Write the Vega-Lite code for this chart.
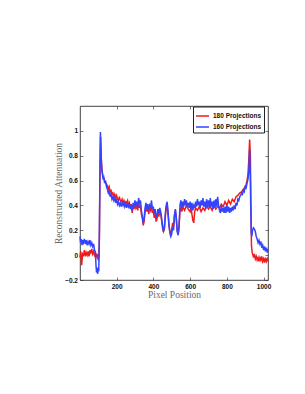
{
"$schema": "https://vega.github.io/schema/vega-lite/v6.json",
"autosize": {"type": "none"},
"padding": {"left": 80, "top": 106, "right": 37, "bottom": 114},
"width": 188,
"height": 174,
"background": "white",
"config": {
  "view": {"stroke": "#111", "strokeWidth": 0.8},
  "axis": {"domain": false, "grid": false, "tickColor": "#222", "tickSize": -3, "tickWidth": 0.6,
    "labelFont": "Liberation Sans", "labelFontWeight": "bold", "labelFontSize": 6.5, "labelColor": "#111",
    "titleFont": "Liberation Serif", "titleFontWeight": "normal", "titleFontSize": 9.5, "titleColor": "#6a6a6a"}
},
"data": {"values": [
{"s":"180 Projections","x":1,"v":-0.02},{"s":"180 Projections","x":5,"v":0.03},{"s":"180 Projections","x":10,"v":-0.08},{"s":"180 Projections","x":15,"v":0.01},{"s":"180 Projections","x":20,"v":0.0},{"s":"180 Projections","x":25,"v":0.04},{"s":"180 Projections","x":30,"v":-0.01},{"s":"180 Projections","x":35,"v":0.02},{"s":"180 Projections","x":40,"v":0.0},{"s":"180 Projections","x":45,"v":0.03},{"s":"180 Projections","x":50,"v":-0.01},{"s":"180 Projections","x":55,"v":0.04},{"s":"180 Projections","x":60,"v":0.02},{"s":"180 Projections","x":65,"v":0.05},{"s":"180 Projections","x":70,"v":0.01},{"s":"180 Projections","x":75,"v":0.03},{"s":"180 Projections","x":80,"v":0.0},{"s":"180 Projections","x":85,"v":0.02},{"s":"180 Projections","x":90,"v":-0.01},{"s":"180 Projections","x":95,"v":0.01},{"s":"180 Projections","x":100,"v":-0.04},{"s":"180 Projections","x":104,"v":-0.02},{"s":"180 Projections","x":107,"v":0.2},{"s":"180 Projections","x":110,"v":0.7},{"s":"180 Projections","x":113,"v":0.95},{"s":"180 Projections","x":116,"v":0.8},{"s":"180 Projections","x":120,"v":0.7},{"s":"180 Projections","x":125,"v":0.64},{"s":"180 Projections","x":130,"v":0.62},{"s":"180 Projections","x":135,"v":0.6},{"s":"180 Projections","x":140,"v":0.58},{"s":"180 Projections","x":145,"v":0.57},{"s":"180 Projections","x":150,"v":0.56},{"s":"180 Projections","x":155,"v":0.53},{"s":"180 Projections","x":160,"v":0.55},{"s":"180 Projections","x":165,"v":0.51},{"s":"180 Projections","x":170,"v":0.52},{"s":"180 Projections","x":175,"v":0.49},{"s":"180 Projections","x":180,"v":0.5},{"s":"180 Projections","x":185,"v":0.47},{"s":"180 Projections","x":190,"v":0.49},{"s":"180 Projections","x":195,"v":0.46},{"s":"180 Projections","x":200,"v":0.48},{"s":"180 Projections","x":205,"v":0.45},{"s":"180 Projections","x":210,"v":0.44},{"s":"180 Projections","x":215,"v":0.47},{"s":"180 Projections","x":220,"v":0.44},{"s":"180 Projections","x":225,"v":0.43},{"s":"180 Projections","x":230,"v":0.45},{"s":"180 Projections","x":235,"v":0.42},{"s":"180 Projections","x":240,"v":0.44},{"s":"180 Projections","x":245,"v":0.41},{"s":"180 Projections","x":250,"v":0.43},{"s":"180 Projections","x":255,"v":0.42},{"s":"180 Projections","x":260,"v":0.44},{"s":"180 Projections","x":265,"v":0.4},{"s":"180 Projections","x":270,"v":0.42},{"s":"180 Projections","x":275,"v":0.38},{"s":"180 Projections","x":280,"v":0.41},{"s":"180 Projections","x":285,"v":0.34},{"s":"180 Projections","x":290,"v":0.4},{"s":"180 Projections","x":295,"v":0.37},{"s":"180 Projections","x":300,"v":0.42},{"s":"180 Projections","x":305,"v":0.38},{"s":"180 Projections","x":310,"v":0.4},{"s":"180 Projections","x":315,"v":0.36},{"s":"180 Projections","x":320,"v":0.43},{"s":"180 Projections","x":325,"v":0.38},{"s":"180 Projections","x":330,"v":0.4},{"s":"180 Projections","x":335,"v":0.33},{"s":"180 Projections","x":340,"v":0.3},{"s":"180 Projections","x":345,"v":0.24},{"s":"180 Projections","x":350,"v":0.27},{"s":"180 Projections","x":355,"v":0.35},{"s":"180 Projections","x":360,"v":0.38},{"s":"180 Projections","x":365,"v":0.35},{"s":"180 Projections","x":370,"v":0.39},{"s":"180 Projections","x":375,"v":0.33},{"s":"180 Projections","x":380,"v":0.38},{"s":"180 Projections","x":385,"v":0.36},{"s":"180 Projections","x":390,"v":0.4},{"s":"180 Projections","x":395,"v":0.34},{"s":"180 Projections","x":400,"v":0.36},{"s":"180 Projections","x":405,"v":0.3},{"s":"180 Projections","x":410,"v":0.34},{"s":"180 Projections","x":415,"v":0.27},{"s":"180 Projections","x":420,"v":0.29},{"s":"180 Projections","x":425,"v":0.34},{"s":"180 Projections","x":430,"v":0.31},{"s":"180 Projections","x":435,"v":0.36},{"s":"180 Projections","x":440,"v":0.33},{"s":"180 Projections","x":445,"v":0.28},{"s":"180 Projections","x":450,"v":0.22},{"s":"180 Projections","x":455,"v":0.19},{"s":"180 Projections","x":460,"v":0.21},{"s":"180 Projections","x":465,"v":0.3},{"s":"180 Projections","x":470,"v":0.38},{"s":"180 Projections","x":475,"v":0.41},{"s":"180 Projections","x":480,"v":0.33},{"s":"180 Projections","x":485,"v":0.24},{"s":"180 Projections","x":490,"v":0.19},{"s":"180 Projections","x":495,"v":0.17},{"s":"180 Projections","x":500,"v":0.2},{"s":"180 Projections","x":505,"v":0.26},{"s":"180 Projections","x":510,"v":0.23},{"s":"180 Projections","x":515,"v":0.32},{"s":"180 Projections","x":520,"v":0.36},{"s":"180 Projections","x":525,"v":0.29},{"s":"180 Projections","x":530,"v":0.2},{"s":"180 Projections","x":535,"v":0.17},{"s":"180 Projections","x":540,"v":0.24},{"s":"180 Projections","x":545,"v":0.36},{"s":"180 Projections","x":550,"v":0.38},{"s":"180 Projections","x":555,"v":0.35},{"s":"180 Projections","x":560,"v":0.39},{"s":"180 Projections","x":570,"v":0.36},{"s":"180 Projections","x":580,"v":0.4},{"s":"180 Projections","x":590,"v":0.37},{"s":"180 Projections","x":600,"v":0.35},{"s":"180 Projections","x":605,"v":0.39},{"s":"180 Projections","x":610,"v":0.33},{"s":"180 Projections","x":615,"v":0.28},{"s":"180 Projections","x":620,"v":0.26},{"s":"180 Projections","x":625,"v":0.35},{"s":"180 Projections","x":630,"v":0.38},{"s":"180 Projections","x":640,"v":0.36},{"s":"180 Projections","x":650,"v":0.39},{"s":"180 Projections","x":660,"v":0.35},{"s":"180 Projections","x":670,"v":0.38},{"s":"180 Projections","x":680,"v":0.36},{"s":"180 Projections","x":690,"v":0.4},{"s":"180 Projections","x":700,"v":0.37},{"s":"180 Projections","x":710,"v":0.39},{"s":"180 Projections","x":720,"v":0.36},{"s":"180 Projections","x":730,"v":0.4},{"s":"180 Projections","x":740,"v":0.37},{"s":"180 Projections","x":750,"v":0.39},{"s":"180 Projections","x":760,"v":0.38},{"s":"180 Projections","x":770,"v":0.41},{"s":"180 Projections","x":780,"v":0.39},{"s":"180 Projections","x":790,"v":0.43},{"s":"180 Projections","x":800,"v":0.4},{"s":"180 Projections","x":810,"v":0.44},{"s":"180 Projections","x":820,"v":0.41},{"s":"180 Projections","x":830,"v":0.45},{"s":"180 Projections","x":840,"v":0.43},{"s":"180 Projections","x":850,"v":0.47},{"s":"180 Projections","x":860,"v":0.48},{"s":"180 Projections","x":870,"v":0.5},{"s":"180 Projections","x":880,"v":0.51},{"s":"180 Projections","x":890,"v":0.53},{"s":"180 Projections","x":900,"v":0.55},{"s":"180 Projections","x":905,"v":0.57},{"s":"180 Projections","x":910,"v":0.6},{"s":"180 Projections","x":915,"v":0.65},{"s":"180 Projections","x":920,"v":0.78},{"s":"180 Projections","x":924,"v":0.93},{"s":"180 Projections","x":928,"v":0.8},{"s":"180 Projections","x":931,"v":0.4},{"s":"180 Projections","x":934,"v":0.08},{"s":"180 Projections","x":938,"v":0.02},{"s":"180 Projections","x":942,"v":0.0},{"s":"180 Projections","x":946,"v":-0.02},{"s":"180 Projections","x":950,"v":0.01},{"s":"180 Projections","x":955,"v":-0.03},{"s":"180 Projections","x":960,"v":-0.01},{"s":"180 Projections","x":965,"v":-0.04},{"s":"180 Projections","x":970,"v":-0.02},{"s":"180 Projections","x":975,"v":-0.05},{"s":"180 Projections","x":980,"v":-0.02},{"s":"180 Projections","x":985,"v":-0.04},{"s":"180 Projections","x":990,"v":-0.01},{"s":"180 Projections","x":995,"v":-0.05},{"s":"180 Projections","x":1000,"v":-0.03},{"s":"180 Projections","x":1005,"v":-0.06},{"s":"180 Projections","x":1010,"v":-0.02},{"s":"180 Projections","x":1015,"v":-0.05},{"s":"180 Projections","x":1020,"v":-0.03},{"s":"180 Projections","x":1024,"v":-0.05},
{"s":"160 Projections","x":1,"v":0.15},{"s":"160 Projections","x":4,"v":0.1},{"s":"160 Projections","x":8,"v":0.13},{"s":"160 Projections","x":12,"v":0.08},{"s":"160 Projections","x":16,"v":0.12},{"s":"160 Projections","x":20,"v":0.1},{"s":"160 Projections","x":25,"v":0.13},{"s":"160 Projections","x":30,"v":0.09},{"s":"160 Projections","x":35,"v":0.12},{"s":"160 Projections","x":40,"v":0.08},{"s":"160 Projections","x":45,"v":0.11},{"s":"160 Projections","x":50,"v":0.09},{"s":"160 Projections","x":55,"v":0.12},{"s":"160 Projections","x":60,"v":0.08},{"s":"160 Projections","x":65,"v":0.1},{"s":"160 Projections","x":70,"v":0.07},{"s":"160 Projections","x":75,"v":0.09},{"s":"160 Projections","x":80,"v":0.04},{"s":"160 Projections","x":85,"v":0.02},{"s":"160 Projections","x":88,"v":-0.08},{"s":"160 Projections","x":91,"v":-0.14},{"s":"160 Projections","x":94,"v":-0.1},{"s":"160 Projections","x":97,"v":-0.15},{"s":"160 Projections","x":100,"v":-0.12},{"s":"160 Projections","x":103,"v":-0.13},{"s":"160 Projections","x":106,"v":0.1},{"s":"160 Projections","x":109,"v":0.6},{"s":"160 Projections","x":112,"v":0.99},{"s":"160 Projections","x":115,"v":0.85},{"s":"160 Projections","x":118,"v":0.72},{"s":"160 Projections","x":122,"v":0.66},{"s":"160 Projections","x":126,"v":0.62},{"s":"160 Projections","x":130,"v":0.63},{"s":"160 Projections","x":135,"v":0.58},{"s":"160 Projections","x":140,"v":0.6},{"s":"160 Projections","x":145,"v":0.55},{"s":"160 Projections","x":150,"v":0.53},{"s":"160 Projections","x":155,"v":0.5},{"s":"160 Projections","x":160,"v":0.52},{"s":"160 Projections","x":165,"v":0.47},{"s":"160 Projections","x":170,"v":0.49},{"s":"160 Projections","x":175,"v":0.45},{"s":"160 Projections","x":180,"v":0.47},{"s":"160 Projections","x":185,"v":0.44},{"s":"160 Projections","x":190,"v":0.46},{"s":"160 Projections","x":195,"v":0.42},{"s":"160 Projections","x":200,"v":0.45},{"s":"160 Projections","x":205,"v":0.41},{"s":"160 Projections","x":210,"v":0.43},{"s":"160 Projections","x":215,"v":0.4},{"s":"160 Projections","x":220,"v":0.42},{"s":"160 Projections","x":225,"v":0.39},{"s":"160 Projections","x":230,"v":0.42},{"s":"160 Projections","x":235,"v":0.4},{"s":"160 Projections","x":240,"v":0.43},{"s":"160 Projections","x":245,"v":0.39},{"s":"160 Projections","x":250,"v":0.41},{"s":"160 Projections","x":255,"v":0.38},{"s":"160 Projections","x":260,"v":0.42},{"s":"160 Projections","x":265,"v":0.39},{"s":"160 Projections","x":270,"v":0.41},{"s":"160 Projections","x":275,"v":0.37},{"s":"160 Projections","x":280,"v":0.4},{"s":"160 Projections","x":285,"v":0.36},{"s":"160 Projections","x":290,"v":0.42},{"s":"160 Projections","x":295,"v":0.39},{"s":"160 Projections","x":300,"v":0.44},{"s":"160 Projections","x":305,"v":0.4},{"s":"160 Projections","x":310,"v":0.43},{"s":"160 Projections","x":315,"v":0.38},{"s":"160 Projections","x":320,"v":0.46},{"s":"160 Projections","x":325,"v":0.41},{"s":"160 Projections","x":330,"v":0.44},{"s":"160 Projections","x":335,"v":0.36},{"s":"160 Projections","x":340,"v":0.31},{"s":"160 Projections","x":345,"v":0.26},{"s":"160 Projections","x":350,"v":0.3},{"s":"160 Projections","x":355,"v":0.38},{"s":"160 Projections","x":360,"v":0.42},{"s":"160 Projections","x":365,"v":0.37},{"s":"160 Projections","x":370,"v":0.41},{"s":"160 Projections","x":375,"v":0.36},{"s":"160 Projections","x":380,"v":0.4},{"s":"160 Projections","x":385,"v":0.38},{"s":"160 Projections","x":390,"v":0.44},{"s":"160 Projections","x":395,"v":0.37},{"s":"160 Projections","x":400,"v":0.39},{"s":"160 Projections","x":405,"v":0.33},{"s":"160 Projections","x":410,"v":0.37},{"s":"160 Projections","x":415,"v":0.3},{"s":"160 Projections","x":420,"v":0.32},{"s":"160 Projections","x":425,"v":0.37},{"s":"160 Projections","x":430,"v":0.34},{"s":"160 Projections","x":435,"v":0.38},{"s":"160 Projections","x":440,"v":0.35},{"s":"160 Projections","x":445,"v":0.3},{"s":"160 Projections","x":450,"v":0.24},{"s":"160 Projections","x":455,"v":0.19},{"s":"160 Projections","x":460,"v":0.22},{"s":"160 Projections","x":465,"v":0.33},{"s":"160 Projections","x":470,"v":0.4},{"s":"160 Projections","x":475,"v":0.43},{"s":"160 Projections","x":480,"v":0.35},{"s":"160 Projections","x":485,"v":0.25},{"s":"160 Projections","x":490,"v":0.18},{"s":"160 Projections","x":495,"v":0.15},{"s":"160 Projections","x":500,"v":0.17},{"s":"160 Projections","x":505,"v":0.23},{"s":"160 Projections","x":510,"v":0.2},{"s":"160 Projections","x":515,"v":0.32},{"s":"160 Projections","x":520,"v":0.37},{"s":"160 Projections","x":525,"v":0.3},{"s":"160 Projections","x":530,"v":0.19},{"s":"160 Projections","x":535,"v":0.16},{"s":"160 Projections","x":540,"v":0.22},{"s":"160 Projections","x":545,"v":0.4},{"s":"160 Projections","x":550,"v":0.44},{"s":"160 Projections","x":555,"v":0.38},{"s":"160 Projections","x":560,"v":0.43},{"s":"160 Projections","x":565,"v":0.39},{"s":"160 Projections","x":570,"v":0.45},{"s":"160 Projections","x":575,"v":0.4},{"s":"160 Projections","x":580,"v":0.44},{"s":"160 Projections","x":585,"v":0.39},{"s":"160 Projections","x":590,"v":0.42},{"s":"160 Projections","x":595,"v":0.38},{"s":"160 Projections","x":600,"v":0.43},{"s":"160 Projections","x":605,"v":0.37},{"s":"160 Projections","x":610,"v":0.42},{"s":"160 Projections","x":615,"v":0.36},{"s":"160 Projections","x":620,"v":0.4},{"s":"160 Projections","x":625,"v":0.38},{"s":"160 Projections","x":630,"v":0.43},{"s":"160 Projections","x":635,"v":0.39},{"s":"160 Projections","x":640,"v":0.45},{"s":"160 Projections","x":645,"v":0.4},{"s":"160 Projections","x":650,"v":0.43},{"s":"160 Projections","x":655,"v":0.38},{"s":"160 Projections","x":660,"v":0.44},{"s":"160 Projections","x":665,"v":0.4},{"s":"160 Projections","x":670,"v":0.46},{"s":"160 Projections","x":675,"v":0.39},{"s":"160 Projections","x":680,"v":0.43},{"s":"160 Projections","x":685,"v":0.37},{"s":"160 Projections","x":690,"v":0.45},{"s":"160 Projections","x":695,"v":0.39},{"s":"160 Projections","x":700,"v":0.44},{"s":"160 Projections","x":705,"v":0.38},{"s":"160 Projections","x":710,"v":0.46},{"s":"160 Projections","x":715,"v":0.39},{"s":"160 Projections","x":720,"v":0.43},{"s":"160 Projections","x":725,"v":0.37},{"s":"160 Projections","x":730,"v":0.44},{"s":"160 Projections","x":735,"v":0.38},{"s":"160 Projections","x":740,"v":0.45},{"s":"160 Projections","x":745,"v":0.39},{"s":"160 Projections","x":750,"v":0.47},{"s":"160 Projections","x":755,"v":0.4},{"s":"160 Projections","x":760,"v":0.36},{"s":"160 Projections","x":765,"v":0.34},{"s":"160 Projections","x":770,"v":0.4},{"s":"160 Projections","x":775,"v":0.35},{"s":"160 Projections","x":780,"v":0.38},{"s":"160 Projections","x":785,"v":0.34},{"s":"160 Projections","x":790,"v":0.39},{"s":"160 Projections","x":795,"v":0.34},{"s":"160 Projections","x":800,"v":0.4},{"s":"160 Projections","x":805,"v":0.35},{"s":"160 Projections","x":810,"v":0.39},{"s":"160 Projections","x":815,"v":0.34},{"s":"160 Projections","x":820,"v":0.38},{"s":"160 Projections","x":825,"v":0.35},{"s":"160 Projections","x":830,"v":0.39},{"s":"160 Projections","x":835,"v":0.36},{"s":"160 Projections","x":840,"v":0.4},{"s":"160 Projections","x":845,"v":0.37},{"s":"160 Projections","x":850,"v":0.42},{"s":"160 Projections","x":855,"v":0.4},{"s":"160 Projections","x":860,"v":0.45},{"s":"160 Projections","x":865,"v":0.44},{"s":"160 Projections","x":870,"v":0.47},{"s":"160 Projections","x":875,"v":0.48},{"s":"160 Projections","x":880,"v":0.5},{"s":"160 Projections","x":885,"v":0.49},{"s":"160 Projections","x":890,"v":0.52},{"s":"160 Projections","x":895,"v":0.51},{"s":"160 Projections","x":900,"v":0.55},{"s":"160 Projections","x":905,"v":0.54},{"s":"160 Projections","x":910,"v":0.58},{"s":"160 Projections","x":915,"v":0.61},{"s":"160 Projections","x":920,"v":0.68},{"s":"160 Projections","x":924,"v":0.85},{"s":"160 Projections","x":927,"v":0.7},{"s":"160 Projections","x":930,"v":0.4},{"s":"160 Projections","x":933,"v":0.18},{"s":"160 Projections","x":936,"v":0.15},{"s":"160 Projections","x":940,"v":0.2},{"s":"160 Projections","x":945,"v":0.22},{"s":"160 Projections","x":950,"v":0.21},{"s":"160 Projections","x":955,"v":0.19},{"s":"160 Projections","x":960,"v":0.15},{"s":"160 Projections","x":965,"v":0.13},{"s":"160 Projections","x":970,"v":0.1},{"s":"160 Projections","x":975,"v":0.12},{"s":"160 Projections","x":980,"v":0.09},{"s":"160 Projections","x":985,"v":0.11},{"s":"160 Projections","x":990,"v":0.06},{"s":"160 Projections","x":995,"v":0.08},{"s":"160 Projections","x":1000,"v":0.04},{"s":"160 Projections","x":1005,"v":0.07},{"s":"160 Projections","x":1010,"v":0.03},{"s":"160 Projections","x":1015,"v":0.06},{"s":"160 Projections","x":1020,"v":0.02},{"s":"160 Projections","x":1024,"v":0.05}
]},
"layer": [
  {
    "transform": [{"filter": "datum.s == '180 Projections'"}],
    "mark": {"type": "line", "strokeWidth": 1.5},
    "encoding": {
      "x": {"field": "x", "type": "quantitative", "scale": {"domain": [1, 1024], "nice": false, "zero": false},
        "axis": {"orient": "bottom", "values": [200, 400, 600, 800, 1000], "format": "d", "title": "Pixel Position", "labelPadding": 6, "titlePadding": 0}},
      "y": {"field": "v", "type": "quantitative", "scale": {"domain": [-0.2, 1.2], "nice": false},
        "axis": {"orient": "left", "values": [-0.2, 0, 0.2, 0.4, 0.6, 0.8, 1], "format": "~g", "title": "Reconstructed Attenuation", "labelPadding": 5.5, "titlePadding": 1}},
      "color": {"field": "s", "type": "nominal",
        "scale": {"domain": ["180 Projections", "160 Projections"], "range": ["#ee1c1c", "#3344ff"]},
        "legend": {"orient": "none", "legendX": 113, "legendY": 0.5, "title": null, "strokeColor": "#222", "fillColor": "white",
          "padding": 2, "symbolType": "stroke", "symbolSize": 170, "symbolStrokeWidth": 1.5,
          "labelFont": "Liberation Sans", "labelFontWeight": "bold", "labelFontSize": 6.5, "labelColor": "#111",
          "rowPadding": 0, "labelOffset": 3}}
    }
  },
  {
    "transform": [{"filter": "datum.s == '160 Projections'"}],
    "mark": {"type": "line", "strokeWidth": 1.5},
    "encoding": {
      "x": {"field": "x", "type": "quantitative", "axis": {"orient": "top", "values": [200, 400, 600, 800, 1000], "labels": false, "title": null}},
      "y": {"field": "v", "type": "quantitative", "axis": {"orient": "right", "values": [-0.2, 0, 0.2, 0.4, 0.6, 0.8, 1], "labels": false, "title": null}},
      "color": {"field": "s", "type": "nominal"}
    }
  }
]
}
